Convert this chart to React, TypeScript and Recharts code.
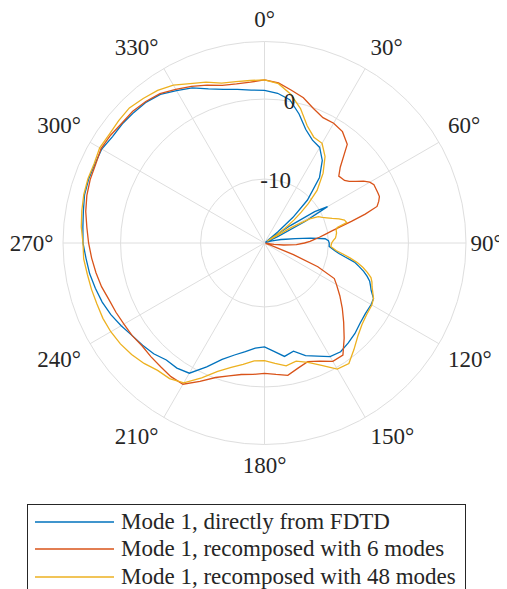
import React from "react";
import {
  Legend,
  PolarAngleAxis,
  PolarGrid,
  PolarRadiusAxis,
  Radar,
  RadarChart,
} from "recharts";

// angle in degrees, clockwise from top (0° = north)
const ANGLES = [
  0, 5, 10, 15, 20, 25, 30, 35, 40, 45, 48,
  50, 52, 54, 56, 58, 60, 62, 64, 66, 68, 70, 72, 74, 76, 78, 80, 82, 84, 86, 88, 90,
  93, 96, 98, 100, 102, 104, 106, 108, 110, 112, 114, 117,
  120, 125, 130, 135, 140, 145, 150, 155, 160, 165, 170, 175, 180, 185, 190, 195,
  200, 205, 210, 215, 220, 225, 230, 235, 240, 245, 250, 255, 260, 265, 270, 275,
  280, 285, 290, 295, 300, 305, 310, 315, 320, 325, 330, 335, 340, 345, 350, 355,
];

// radiated power, dB
const FDTD = [
  1.1, 0.8, 0.2, -1.3, -2.9, -3.8, -4.2, -5.4, -7.3, -10.4, -13.2,
  -15.8, -17.8, -17.8, -14.1, -10.6, -8.9, -12.2, -16.1, -17.8, -17.8, -17.8, -17.8, -17.2, -16.6, -15.9, -15.3, -14.1, -12.2, -10.4, -10.0, -9.9,
  -9.9, -9.2, -8.6, -7.7, -6.5, -5.8, -5.1, -4.5, -4.0, -3.7, -3.4, -2.7,
  -2.6, -2.6, -2.4, -2.0, -1.7, -1.4, -1.6, -2.4, -3.0, -4.0, -3.6, -4.4, -5.0, -4.8, -4.2, -3.5,
  -2.5, -0.9, 0.8, 1.1, 1.1, 1.6, 1.9, 2.2, 2.7, 3.2, 3.6, 3.9, 4.2, 4.4, 4.7, 4.8,
  5.0, 5.3, 5.4, 5.4, 5.5, 5.2, 5.2, 5.1, 5.0, 4.7, 4.0, 3.4, 2.5, 1.9, 1.5, 1.2,
];

const SIX_MODES = [
  2.4, 2.1, 1.4, 0.8, -0.1, -0.7, -0.7, -1.0, -1.9, -4.6, -5.5,
  -5.4, -5.3, -4.9, -4.2, -3.4, -2.8, -2.5, -2.5, -2.5, -2.5, -2.8, -3.2, -4.9, -6.8, -8.4, -9.5, -10.4, -11.1, -11.8, -12.3, -13.0,
  -14.0, -15.6, -16.8, -17.8, -17.8, -17.8, -17.8, -17.8, -17.2, -14.1, -10.7, -8.2,
  -7.6, -6.5, -5.3, -4.0, -2.5, -0.9, -0.9, -1.7, -2.2, -1.8, -1.2, -1.5, -1.7, -1.5, -1.3, -0.8,
  -0.1, 1.1, 2.4, 2.4, 2.2, 2.1, 2.0, 2.2, 2.3, 2.5, 2.7, 3.1, 3.4, 3.7, 4.0, 4.3,
  4.7, 5.0, 5.2, 5.3, 5.6, 5.5, 5.3, 5.3, 5.1, 4.8, 4.2, 3.6, 3.0, 2.4, 2.2, 2.2,
];

const ALL_MODES = [
  2.4, 2.0, 0.9, -0.6, -2.4, -3.4, -3.6, -4.8, -6.6, -8.7, -10.6,
  -12.0, -13.3, -14.8, -16.3, -17.6, -14.1, -11.6, -10.5, -10.1, -9.6, -9.0, -8.2, -7.6, -7.4, -8.7, -8.9, -8.9, -9.0, -9.1, -9.4, -9.6,
  -9.7, -9.0, -8.1, -7.1, -6.1, -5.3, -4.6, -4.0, -3.7, -3.5, -3.2, -2.7,
  -2.5, -2.4, -2.1, -1.5, -0.6, 0.4, 0.2, -1.1, -2.1, -2.7, -2.4, -2.9, -3.3, -3.2, -2.6, -1.9,
  -0.9, 0.6, 2.2, 2.7, 2.8, 3.3, 3.7, 4.0, 4.2, 4.3, 4.3, 4.4, 4.5, 4.7, 4.7, 5.0,
  5.2, 5.4, 5.5, 5.5, 5.8, 5.7, 5.8, 5.9, 5.6, 5.3, 4.8, 4.0, 3.4, 2.7, 2.5, 2.4,
];

const ANGLE_TICKS = [0, 30, 60, 90, 120, 150, 180, 210, 240, 270, 300, 330];
const R_TICKS = [-10, 0];
const R_MIN = -17.8;
const R_MAX = 7.2;

const SERIES = [
  { key: "fdtd", name: "Mode 1, directly from FDTD", color: "#0072BD" },
  { key: "six", name: "Mode 1, recomposed with 6 modes", color: "#D95319" },
  { key: "all48", name: "Mode 1, recomposed with 48 modes", color: "#EDB120" },
];

const rows = ANGLES.map((a, i) => ({
  angle: a,
  fdtd: FDTD[i],
  six: SIX_MODES[i],
  all48: ALL_MODES[i],
}));

const FONT = "'Liberation Serif', 'Times New Roman', serif";
const TEXT = "#262626";
const GRID = "#dedede";
const FS = 23;
const CAP = 15.5;

// MATLAB style: label box corner nearest the rim sits on a circle just outside it
function AngleTick(props: any) {
  const { x, y, payload } = props;
  const v = Number(payload.value);
  const s = Math.sin((v * Math.PI) / 180);
  const c = Math.cos((v * Math.PI) / 180);
  let px = x;
  if (s > 0.99) px = x - 6;
  if (s < -0.99) px = x + 1;
  const anchor = Math.abs(s) < 0.01 ? "middle" : s > 0 ? "start" : "end";
  let ty = y + CAP / 2;
  if (c > 0.01) ty = y - 4.5;
  else if (c < -0.01) ty = y + 2 + CAP;
  return (
    <text x={px} y={ty} textAnchor={anchor} style={{ fontFamily: FONT, fontSize: FS }} fill={TEXT}>
      {`${v}°`}
    </text>
  );
}

function RadiusTick(props: any) {
  const { x, y, payload } = props;
  return (
    <text
      x={x}
      y={y + CAP / 2}
      textAnchor="middle"
      style={{ fontFamily: FONT, fontSize: FS }}
      fill={TEXT}
    >
      {payload.value}
    </text>
  );
}

function LegendBox() {
  return (
    <div
      style={{
        width: 439,
        height: 100,
        border: `1px solid ${TEXT}`,
        background: "#ffffff",
        boxSizing: "border-box",
        paddingTop: 3,
        fontFamily: FONT,
        fontSize: FS,
        color: TEXT,
      }}
    >
      {SERIES.map((s) => (
        <div key={s.key} style={{ display: "flex", alignItems: "center", height: 27.5 }}>
          <svg width={93} height={10} style={{ flex: "none" }}>
            <line x1={7} x2={86} y1={5} y2={5} stroke={s.color} strokeWidth={1.3} />
          </svg>
          <span style={{ whiteSpace: "nowrap" }}>{s.name}</span>
        </div>
      ))}
    </div>
  );
}

export default function App() {
  return (
    <div>
      <style>{"body{overflow:hidden}"}</style>
      <RadarChart
        width={507}
        height={581}
        data={rows}
        cx={256.5}
        cy={235}
        outerRadius={201.5}
        startAngle={90}
        endAngle={-270}
        margin={{ top: 0, right: 0, bottom: 0, left: 0 }}
      >
        <PolarGrid gridType="circle" stroke={GRID} strokeWidth={1} />
        <PolarAngleAxis
          dataKey="angle"
          type="number"
          domain={[0, 360]}
          ticks={ANGLE_TICKS}
          axisLineType="circle"
          axisLine={{ stroke: GRID, strokeWidth: 1 }}
          tickLine={false}
          tickSize={10.5}
          tick={<AngleTick />}
        />
        {SERIES.map((s) => (
          <Radar
            key={s.key}
            dataKey={s.key}
            name={s.name}
            stroke={s.color}
            strokeWidth={1.3}
            fill="none"
            fillOpacity={0}
            dot={false}
            isAnimationActive={false}
          />
        ))}
        <PolarRadiusAxis
          angle={80}
          type="number"
          domain={[R_MIN, R_MAX]}
          allowDataOverflow
          ticks={R_TICKS}
          axisLine={false}
          tickLine={false}
          tick={<RadiusTick />}
        />
        <Legend
          layout="vertical"
          verticalAlign="bottom"
          align="left"
          wrapperStyle={{ position: "absolute", left: 19, top: 496, width: 439, height: 100 }}
          content={<LegendBox />}
        />
      </RadarChart>
    </div>
  );
}
